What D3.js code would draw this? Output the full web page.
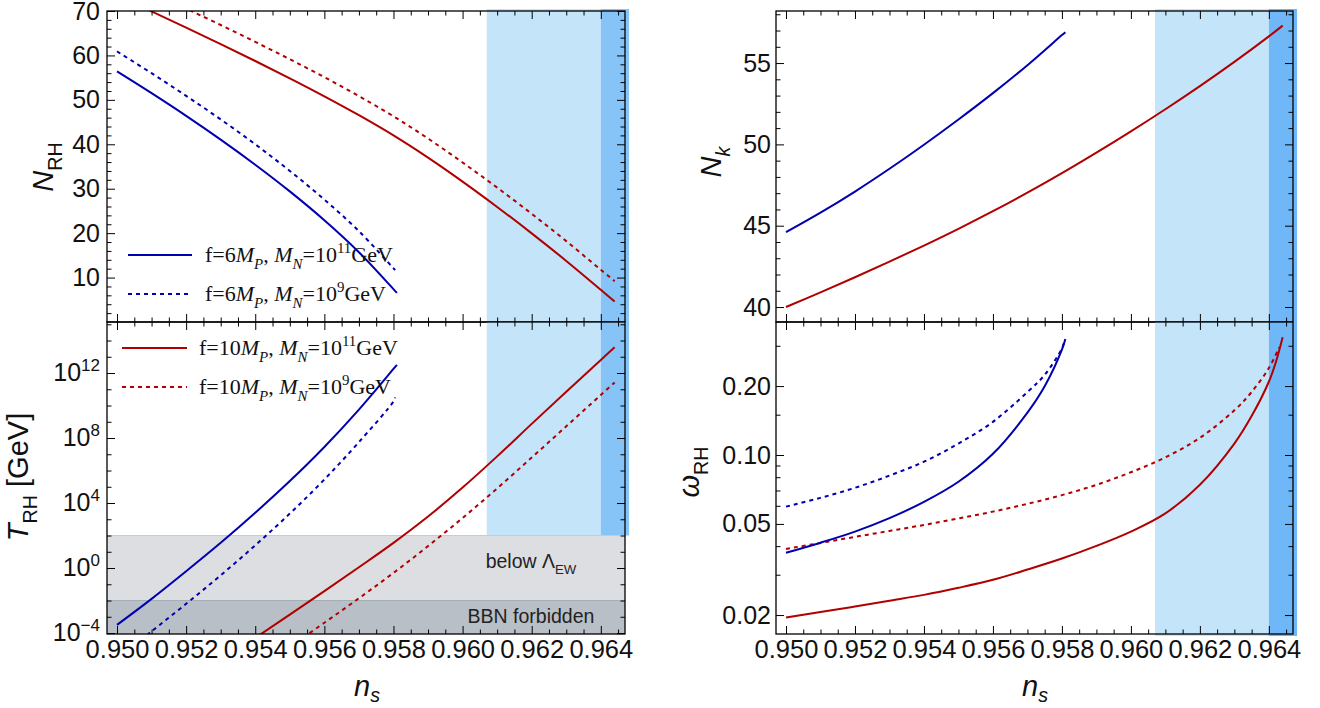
<!DOCTYPE html>
<html><head><meta charset="utf-8">
<script src="https://cdn.jsdelivr.net/npm/d3@7"></script>
<style>body{margin:0;background:#fff}svg{display:block}</style>
</head><body>
<svg id="c" width="1320" height="708"></svg>
<script>
// ---------- data ----------
const nsMajor = [0.950,0.952,0.954,0.956,0.958,0.960,0.962,0.964];
const nsLabels = ["0.950","0.952","0.954","0.956","0.958","0.960","0.962","0.964"];
const nrhMajor = [10,20,30,40,50,60,70];
const trhMajorExp = [-4,0,4,8,12];
const nkMajor = [40,45,50,55];
const wMajor = [0.02,0.05,0.10,0.20];
const wLabels = ["0.02","0.05","0.10","0.20"];
const wMinor = [0.03,0.04,0.06,0.07,0.08,0.09,0.15,0.3];

const bandLight = [0.9607, 0.9640];
const bandDark = [0.9640, 0.96476];
const lambdaEW = 1e2, bbnT = 1e-2;

// N_RH vs n_s
const nrh_f6_M11 = [[0.950,56.4],[0.951,51.5],[0.952,46.4],[0.953,41.05],[0.954,35.4],[0.955,29.4],[0.956,22.9],[0.957,15.7],[0.958,7.4],[0.9581,6.55]];
const nrh_f6_M9  = [[0.950,60.9],[0.951,56.0],[0.952,50.9],[0.953,45.6],[0.954,40.0],[0.955,34.0],[0.956,27.55],[0.957,20.45],[0.958,12.1],[0.95805,11.7]];
const nrh_f10_M11 = [[0.950,73.5],[0.951,69.9],[0.952,66.25],[0.953,62.55],[0.954,58.75],[0.955,54.85],[0.956,50.8],[0.957,46.55],[0.958,42.0],[0.959,37.0],[0.960,31.6],[0.961,25.9],[0.962,19.95],[0.963,13.75],[0.964,7.25],[0.9644,4.6]];
const nrh_f10_M9  = [[0.950,77.8],[0.951,74.2],[0.952,70.55],[0.953,66.85],[0.954,63.05],[0.955,59.15],[0.956,55.1],[0.957,50.85],[0.958,46.3],[0.959,41.3],[0.960,35.9],[0.961,30.25],[0.962,24.35],[0.963,18.2],[0.964,11.75],[0.9644,9.2]];

// log10 of T_RH [GeV] vs n_s
const trh_f6_M11 = [[0.950,-3.5],[0.951,-1.9],[0.952,-0.2],[0.953,1.55],[0.954,3.4],[0.955,5.35],[0.956,7.45],[0.957,9.75],[0.958,12.25],[0.9581,12.5]];
const trh_f6_M9  = [[0.9505,-4.75],[0.951,-3.9],[0.952,-2.2],[0.953,-0.45],[0.954,1.4],[0.955,3.35],[0.956,5.45],[0.957,7.75],[0.958,10.25],[0.95805,10.5]];
const trh_f10_M11 = [[0.9535,-5.0],[0.954,-4.3],[0.955,-2.87],[0.956,-1.42],[0.957,0.05],[0.958,1.55],[0.959,3.17],[0.960,4.95],[0.961,6.87],[0.962,8.87],[0.963,10.85],[0.964,12.8],[0.9644,13.58]];
const trh_f10_M9  = [[0.955,-4.85],[0.956,-3.37],[0.957,-1.86],[0.958,-0.3],[0.959,1.35],[0.960,3.08],[0.961,4.9],[0.962,6.8],[0.963,8.72],[0.964,10.65],[0.9644,11.42]];

// N_k vs n_s
const nk_f6  = [[0.950,44.6],[0.951,45.8],[0.952,47.1],[0.953,48.5],[0.954,49.98],[0.955,51.53],[0.956,53.15],[0.957,54.87],[0.958,56.72],[0.9581,56.9]];
const nk_f10 = [[0.950,40.0],[0.951,40.9],[0.952,41.83],[0.953,42.79],[0.954,43.78],[0.955,44.81],[0.956,45.89],[0.957,47.03],[0.958,48.23],[0.959,49.49],[0.960,50.8],[0.961,52.16],[0.962,53.58],[0.963,55.07],[0.964,56.64],[0.9644,57.3]];

// omega_RH vs n_s
const w_f6_M11 = [[0.950,0.0374],[0.951,0.0414],[0.952,0.0463],[0.953,0.0530],[0.954,0.0624],[0.955,0.0764],[0.956,0.1012],[0.957,0.1531],[0.9575,0.1995],[0.958,0.2884],[0.9581,0.321]];
const w_f6_M9  = [[0.950,0.0595],[0.951,0.0650],[0.952,0.0719],[0.953,0.0813],[0.954,0.0935],[0.955,0.1122],[0.956,0.1396],[0.957,0.1884],[0.9575,0.2239],[0.958,0.2917],[0.95805,0.3069]];
const w_f10_M11 = [[0.950,0.0195],[0.951,0.0206],[0.952,0.0218],[0.953,0.0231],[0.954,0.0245],[0.955,0.0263],[0.956,0.0285],[0.957,0.0316],[0.958,0.0353],[0.959,0.0401],[0.960,0.0463],[0.961,0.0556],[0.962,0.0741],[0.963,0.1122],[0.9635,0.1479],[0.964,0.2089],[0.9642,0.2535],[0.9644,0.3266]];
const w_f10_M9  = [[0.950,0.0389],[0.951,0.0413],[0.952,0.0439],[0.953,0.0466],[0.954,0.0495],[0.955,0.0528],[0.956,0.0566],[0.957,0.0612],[0.958,0.0668],[0.959,0.0741],[0.960,0.0841],[0.961,0.0977],[0.962,0.1189],[0.963,0.1567],[0.9635,0.1884],[0.964,0.2399],[0.9643,0.2951]];

// ---------- style ----------
const BLUE = "#0000b0", RED = "#b00000";
const LW = 2, DASH = "4,4";
const SANS = "'Liberation Sans', Arial, sans-serif";
const SERIF = "'Liberation Serif', 'Times New Roman', serif";

const svg = d3.select("#c");
const xDomain = [0.94971, 0.96470];
const xL = d3.scaleLinear().domain(xDomain).range([107, 625]);
const xR = d3.scaleLinear().domain(xDomain).range([776, 1293]);
const yNRH = d3.scaleLinear().domain([0, 70]).range([322, 11]);
const yTRH = d3.scaleLog().domain([Math.pow(10,-4.06), Math.pow(10,15.14)]).range([634, 322]);
const yNk = d3.scaleLinear().domain([39.08, 58.2]).range([322, 11]);
const yW = d3.scaleLog().domain([0.01653, 0.381]).range([634, 322]);

const nsMinor = d3.range(0, 30).map(i => 0.950 + i * 0.0005).filter(v => !nsMajor.some(m => Math.abs(m - v) < 1e-7));

function rich(sel, segs, size, subK) {
  const sk = subK || 0.3;
  let cur = 0;
  segs.forEach(s => {
    const shift = s.sub ? sk * size : (s.sup ? -0.4 * size : 0);
    const ts = sel.append("tspan").text(s.t).attr("dy", shift - cur);
    cur = shift;
    if (s.sub || s.sup) ts.attr("font-size", size * 0.68);
    if (s.it) ts.attr("font-style", "italic");
  });
}

let clipN = 0;
function panel(x, y, opts) {
  const [x0, x1] = x.range();
  const [yb, yt] = y.range();
  const g = svg.append("g");
  const id = "clip" + (clipN++);
  svg.append("clipPath").attr("id", id).append("rect")
    .attr("x", x0).attr("y", yt).attr("width", x1 - x0).attr("height", yb - yt);
  if (opts.bands) {
    const bt = opts.bandTop, bb = opts.bandBottom;
    g.append("rect").attr("x", x(bandLight[0])).attr("y", bt)
      .attr("width", x(bandLight[1]) - x(bandLight[0])).attr("height", bb - bt).attr("fill", "#c4e4fa");
    g.append("rect").attr("x", x(bandDark[0])).attr("y", bt)
      .attr("width", x(bandDark[1]) - x(bandDark[0]) + 2).attr("height", bb - bt).attr("fill", opts.darkColor);
  }
  if (opts.grey) {
    const yEW = y(lambdaEW), yB = y(bbnT);
    g.append("rect").attr("x", x0).attr("y", yEW).attr("width", x1 - x0).attr("height", yB - yEW).attr("fill", "#dcdee2");
    g.append("rect").attr("x", x0).attr("y", yB).attr("width", x1 - x0).attr("height", yb - yB).attr("fill", "#b9bfc6");
    g.append("line").attr("x1", x0).attr("x2", x1).attr("y1", yEW).attr("y2", yEW).attr("stroke", "#c8ccd2").attr("stroke-width", 1);
    g.append("line").attr("x1", x0).attr("x2", x1).attr("y1", yB).attr("y2", yB).attr("stroke", "#a4acb5").attr("stroke-width", 1);
  }
  const cg = g.append("g").attr("clip-path", `url(#${id})`);
  (opts.series || []).forEach(s => {
    const line = d3.line().x(d => x(d[0])).y(d => y(s.log ? Math.pow(10, d[1]) : d[1])).curve(d3.curveCatmullRom.alpha(0.5));
    cg.append("path").attr("d", line(s.data)).attr("fill", "none")
      .attr("stroke", s.color).attr("stroke-width", LW)
      .attr("stroke-dasharray", s.dash ? DASH : null);
  });
  if (opts.extra) opts.extra(g);
  const ax = [];
  const xb = g.append("g").attr("transform", `translate(0,${yb})`).call(d3.axisBottom(x).tickValues(nsMajor).tickSize(-8).tickPadding(6).tickFormat(opts.xLabels ? (d, i) => nsLabels[i] : ""));
  ax.push(xb);
  ax.push(g.append("g").attr("transform", `translate(0,${yb})`).call(d3.axisBottom(x).tickValues(nsMinor).tickSize(-4.5).tickFormat("")));
  ax.push(g.append("g").attr("transform", `translate(0,${yt})`).call(d3.axisTop(x).tickValues(nsMajor).tickSize(-8).tickFormat("")));
  ax.push(g.append("g").attr("transform", `translate(0,${yt})`).call(d3.axisTop(x).tickValues(nsMinor).tickSize(-4.5).tickFormat("")));
  const yl = g.append("g").attr("transform", `translate(${x0},0)`).call(d3.axisLeft(y).tickValues(opts.yMajor).tickSize(-8).tickPadding(opts.yPad).tickFormat(opts.yFmt));
  ax.push(yl);
  ax.push(g.append("g").attr("transform", `translate(${x0},0)`).call(d3.axisLeft(y).tickValues(opts.yMinor).tickSize(-4.5).tickFormat("")));
  ax.push(g.append("g").attr("transform", `translate(${x1},0)`).call(d3.axisRight(y).tickValues(opts.yMajor).tickSize(-8).tickFormat("")));
  ax.push(g.append("g").attr("transform", `translate(${x1},0)`).call(d3.axisRight(y).tickValues(opts.yMinor).tickSize(-4.5).tickFormat("")));
  ax.forEach(a => {
    a.select(".domain").remove();
    a.selectAll("line").attr("stroke", "#000").attr("stroke-width", 1);
    a.selectAll("text").attr("font-family", SANS).attr("font-size", 25).attr("fill", "#111");
  });
  xb.selectAll("text").attr("font-size", 25.5);
  if (opts.supLabels) {
    yl.selectAll("text").each(function(d) {
      const t = d3.select(this);
      t.text(null).attr("dy", "0.28em");
      t.append("tspan").text("10");
      t.append("tspan").text(String(Math.round(Math.log10(d))).replace("-", "\u2212")).attr("font-size", 17).attr("dy", -10);
    });
  }
  g.append("rect").attr("x", x0).attr("y", yt).attr("width", x1 - x0).attr("height", yb - yt)
    .attr("fill", "none").attr("stroke", "#000").attr("stroke-width", 1.3);
  return g;
}

// ---------- panels ----------
panel(xL, yNRH, {
  bands: true, bandTop: 9, bandBottom: 322, darkColor: "#86c4f8",
  yMajor: nrhMajor, yMinor: d3.range(2, 70, 2).filter(v => v % 10 !== 0), yPad: 7, yFmt: d3.format("d"),
  series: [
    {data: nrh_f10_M11, color: RED}, {data: nrh_f10_M9, color: RED, dash: true},
    {data: nrh_f6_M11, color: BLUE}, {data: nrh_f6_M9, color: BLUE, dash: true}
  ]
});
panel(xL, yTRH, {
  bands: true, bandTop: 322, bandBottom: yTRH(lambdaEW), darkColor: "#86c4f8", grey: true, xLabels: true,
  yMajor: trhMajorExp.map(e => Math.pow(10, e)),
  yMinor: d3.range(-4, 16).filter(e => e % 4 !== 0).map(e => Math.pow(10, e)),
  yPad: 7, yFmt: d => String(d), supLabels: true,
  series: [
    {data: trh_f10_M11, color: RED, log: true}, {data: trh_f10_M9, color: RED, dash: true, log: true},
    {data: trh_f6_M11, color: BLUE, log: true}, {data: trh_f6_M9, color: BLUE, dash: true, log: true}
  ],
  extra: g => {
    const t1 = g.append("text").attr("x", 531).attr("y", 568).attr("text-anchor", "middle")
      .attr("font-family", SANS).attr("font-size", 19.5).attr("fill", "#222");
    rich(t1, [{t: "below "}, {t: "\u039B"}, {t: "EW", sub: true}], 19.5);
    g.append("text").attr("x", 531).attr("y", 623).attr("text-anchor", "middle")
      .attr("font-family", SANS).attr("font-size", 19.5).attr("fill", "#222").text("BBN forbidden");
  }
});
panel(xR, yNk, {
  bands: true, bandTop: 9, bandBottom: 322, darkColor: "#70b7f8",
  yMajor: nkMajor, yMinor: d3.range(40, 59).filter(v => v % 5 !== 0), yPad: 5, yFmt: d3.format("d"),
  series: [{data: nk_f10, color: RED}, {data: nk_f6, color: BLUE}]
});
panel(xR, yW, {
  bands: true, bandTop: 322, bandBottom: 636, darkColor: "#70b7f8", xLabels: true,
  yMajor: wMajor, yMinor: wMinor, yPad: 5, yFmt: (d, i) => wLabels[i],
  series: [
    {data: w_f10_M11, color: RED}, {data: w_f10_M9, color: RED, dash: true},
    {data: w_f6_M11, color: BLUE}, {data: w_f6_M9, color: BLUE, dash: true}
  ]
});

// ---------- legends ----------
const legend = [
  {y: 255, x0: 128, x1: 192, tx: 205, color: BLUE, dash: false, f: "6", m: "11"},
  {y: 294, x0: 128, x1: 192, tx: 205, color: BLUE, dash: true, f: "6", m: "9"},
  {y: 348, x0: 122, x1: 187, tx: 199, color: RED, dash: false, f: "10", m: "11"},
  {y: 387, x0: 122, x1: 187, tx: 199, color: RED, dash: true, f: "10", m: "9"}
];
legend.forEach(l => {
  svg.append("line").attr("x1", l.x0).attr("x2", l.x1).attr("y1", l.y).attr("y2", l.y)
    .attr("stroke", l.color).attr("stroke-width", LW).attr("stroke-dasharray", l.dash ? DASH : null);
  const t = svg.append("text").attr("x", l.tx).attr("y", l.y + 7).attr("font-family", SERIF).attr("font-size", 22).attr("fill", "#111");
  rich(t, [{t: "f=" + l.f}, {t: "M", it: true}, {t: "P", it: true, sub: true}, {t: ", "}, {t: "M", it: true}, {t: "N", it: true, sub: true},
           {t: "=10"}, {t: l.m, sup: true}, {t: "GeV"}], 22);
});

// ---------- axis titles ----------
function vtitle(cx, cy, segs) {
  const t = svg.append("text").attr("transform", `translate(${cx},${cy}) rotate(-90)`)
    .attr("text-anchor", "middle").attr("font-family", SANS).attr("font-size", 29).attr("fill", "#111");
  rich(t, segs, 29);
}
vtitle(53, 167, [{t: "N", it: true}, {t: "RH", sub: true}]);
vtitle(28, 477, [{t: "T", it: true}, {t: "RH", sub: true}, {t: " [GeV]"}]);
vtitle(721, 162, [{t: "N", it: true}, {t: "k", it: true, sub: true}]);
vtitle(699, 472, [{t: "\u03C9", it: true}, {t: "RH", sub: true}]);
function htitle(cx, cy) {
  const t = svg.append("text").attr("x", cx).attr("y", cy).attr("text-anchor", "middle")
    .attr("font-family", SANS).attr("font-size", 29).attr("fill", "#111");
  rich(t, [{t: "n", it: true}, {t: "s", it: true, sub: true}], 29, 0.2);
}
htitle(367, 696);
htitle(1035, 696);
</script>
</body></html>
